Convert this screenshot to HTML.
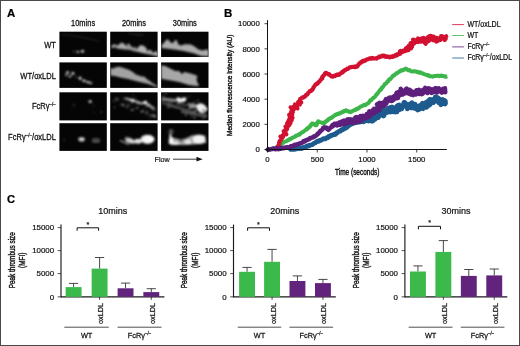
<!DOCTYPE html>
<html><head><meta charset="utf-8"><style>
html,body{margin:0;padding:0;background:#fff;}
body{width:520px;height:346px;overflow:hidden;}
svg{display:block;font-family:"Liberation Sans", sans-serif;will-change:transform;}
</style></head><body>
<svg width="520" height="346" viewBox="0 0 520 346">
<rect x="0" y="0" width="520" height="346" fill="#fff"/>
<text x="6.9" y="16.5" font-size="11.4" text-anchor="start" font-weight="bold" fill="#000" stroke="#000" stroke-width="0.2" >A</text>
<text x="0" y="0" font-size="8.2" text-anchor="middle" font-weight="normal" fill="#111" stroke="#111" stroke-width="0.26" transform="translate(83.10 26.20) scale(0.91 1)">10mins</text>
<text x="0" y="0" font-size="8.2" text-anchor="middle" font-weight="normal" fill="#111" stroke="#111" stroke-width="0.26" transform="translate(133.90 26.20) scale(0.91 1)">20mins</text>
<text x="0" y="0" font-size="8.2" text-anchor="middle" font-weight="normal" fill="#111" stroke="#111" stroke-width="0.26" transform="translate(184.80 26.20) scale(0.91 1)">30mins</text>
<rect x="59.4" y="31.7" width="47.4" height="25.3" fill="#050505"/>
<rect x="110.2" y="31.7" width="47.4" height="25.3" fill="#050505"/>
<rect x="161.1" y="31.7" width="47.4" height="25.3" fill="#050505"/>
<rect x="59.4" y="62.4" width="47.4" height="25.5" fill="#050505"/>
<rect x="110.2" y="62.4" width="47.4" height="25.5" fill="#050505"/>
<rect x="161.1" y="62.4" width="47.4" height="25.5" fill="#050505"/>
<rect x="59.4" y="92.3" width="47.4" height="28.1" fill="#050505"/>
<rect x="110.2" y="92.3" width="47.4" height="28.1" fill="#050505"/>
<rect x="161.1" y="92.3" width="47.4" height="28.1" fill="#050505"/>
<rect x="59.4" y="123.2" width="47.4" height="27.7" fill="#050505"/>
<rect x="110.2" y="123.2" width="47.4" height="27.7" fill="#050505"/>
<rect x="161.1" y="123.2" width="47.4" height="27.7" fill="#050505"/>
<defs><filter id="bl" x="-10%" y="-10%" width="120%" height="120%"><feGaussianBlur stdDeviation="0.95"/></filter>
<clipPath id="imgclip"><rect x="59.4" y="31.7" width="47.4" height="25.3"/><rect x="110.2" y="31.7" width="47.4" height="25.3"/><rect x="161.1" y="31.7" width="47.4" height="25.3"/><rect x="59.4" y="62.4" width="47.4" height="25.5"/><rect x="110.2" y="62.4" width="47.4" height="25.5"/><rect x="161.1" y="62.4" width="47.4" height="25.5"/><rect x="59.4" y="92.3" width="47.4" height="28.1"/><rect x="110.2" y="92.3" width="47.4" height="28.1"/><rect x="161.1" y="92.3" width="47.4" height="28.1"/><rect x="59.4" y="123.2" width="47.4" height="27.7"/><rect x="110.2" y="123.2" width="47.4" height="27.7"/><rect x="161.1" y="123.2" width="47.4" height="27.7"/></clipPath></defs>
<g clip-path="url(#imgclip)"><g filter="url(#bl)"><path d="M62,34.5 Q80,35.5 100,41.5" fill="none" stroke="#3c3c3c" stroke-width="0.6"/><ellipse cx="77.9" cy="51.9" rx="1.4" ry="1.1" fill="#bbb" opacity="1"/><ellipse cx="82.5" cy="51.3" rx="1.7" ry="1.4" fill="#ccc" opacity="1"/><ellipse cx="74" cy="51.5" rx="0.9" ry="0.7" fill="#777" opacity="1"/><line x1="128.5" y1="33.8" x2="143.5" y2="35" stroke="#333" stroke-width="1.0" opacity="1"/><path d="M111.5,47.3 Q112,45 114,44.8 Q116.5,45 117.5,46.5 Z" fill="#999" stroke="#999" stroke-width="1.3" stroke-linejoin="round"/><path d="M117,47.8 Q119,44.5 121.8,43 Q124,44 126.5,47 L127,49 Z" fill="#a8a8a8" stroke="#a8a8a8" stroke-width="1.3" stroke-linejoin="round"/><path d="M126.5,48.5 Q127.5,44.5 128.5,44 Q130,45.5 130.5,47 Q132.5,47 133,48.5 L133,50.2 Z" fill="#999" stroke="#999" stroke-width="1.3" stroke-linejoin="round"/><path d="M132.8,50.4 Q133.5,47.8 135,47.6 Q136.5,48.5 136.8,51 Z" fill="#999" stroke="#999" stroke-width="1.3" stroke-linejoin="round"/><path d="M137.5,51 Q138,47 141,45.8 Q144.5,46 146,49 Q146.5,51.5 146,53.2 Z" fill="#b2b2b2" stroke="#b2b2b2" stroke-width="1.3" stroke-linejoin="round"/><path d="M146.8,53.4 Q147.5,50.8 149.5,50.4 Q152,51 152.8,54.4 Z" fill="#a5a5a5" stroke="#a5a5a5" stroke-width="1.3" stroke-linejoin="round"/><path d="M153,54.6 Q154,52 156,51.8 Q157.8,52.5 158,55.6 Z" fill="#b0b0b0" stroke="#b0b0b0" stroke-width="1.3" stroke-linejoin="round"/><polygon points="161.5,45.0 163.0,44.0 165.8,40.6 167.7,39.0 169.6,41.5 172.5,43.5 174.9,40.6 176.8,40.0 178.3,44.4 181.2,45.4 185.0,44.2 190.8,44.4 194.6,46.6 198.5,49.5 202.3,50.5 207.1,49.5 208.5,50.0 208.5,56.5 200.4,55.7 193.7,53.3 184.0,50.9 174.4,49.4 161.5,48.0" fill="#ababab" opacity="1"/><ellipse cx="67.6" cy="72.5" rx="1.6" ry="1.3" fill="#ccc" opacity="1"/><ellipse cx="72.9" cy="73.5" rx="1.6" ry="1.4" fill="#ccc" opacity="1"/><ellipse cx="70" cy="76.3" rx="1.7" ry="1.1" fill="#bbb" opacity="1"/><ellipse cx="66.2" cy="74.9" rx="1.2" ry="1.2" fill="#999" opacity="1"/><ellipse cx="80.1" cy="78.3" rx="1.5" ry="1.8" fill="#ccc" opacity="1"/><ellipse cx="84" cy="80.7" rx="1.8" ry="1.2" fill="#d0d0d0" opacity="1"/><ellipse cx="87.8" cy="82.1" rx="1.8" ry="1.2" fill="#ccc" opacity="1"/><ellipse cx="90.7" cy="83.1" rx="1.6" ry="1.1" fill="#bbb" opacity="1"/><ellipse cx="76" cy="77" rx="0.8" ry="0.8" fill="#777" opacity="1"/><polygon points="110.4,67.7 112.8,68.7 115.7,67.2 119.6,66.7 124.4,68.2 128.2,69.6 132.1,71.5 135.9,74.4 140.7,76.3 144.6,76.8 147.0,79.2 149.4,80.7 152.3,83.1 157.5,86.0 157.5,87.3 147.5,83.8 137.8,81.4 128.2,79.0 120.5,77.5 114.8,76.1 110.4,75.6" fill="#a2a2a2" opacity="1"/><polygon points="161.2,65.3 165.8,66.3 170.6,68.7 175.4,71.1 179.2,71.1 181.2,73.5 182.6,73.9 184.0,72.0 188.8,73.0 193.7,74.4 197.5,75.9 196.5,79.2 197.5,83.1 199.4,85.5 196.5,86.0 188.8,85.0 179.2,82.1 169.6,80.2 161.2,78.8" fill="#a8a8a8" opacity="1"/><ellipse cx="90.2" cy="101.5" rx="1.7" ry="1.5" fill="#bbb" opacity="1"/><ellipse cx="73.9" cy="105.4" rx="1.5" ry="1.1" fill="#333" opacity="1"/><ellipse cx="101.3" cy="112.1" rx="1.5" ry="1.1" fill="#2a2a2a" opacity="1"/><ellipse cx="93.6" cy="112.1" rx="1.1" ry="0.9" fill="#222" opacity="1"/><ellipse cx="94" cy="106" rx="0.9" ry="0.9" fill="#222" opacity="1"/><ellipse cx="135.9" cy="97.6" rx="0.79" ry="0.65" fill="rgb(57,57,57)" opacity="1"/><ellipse cx="122.9" cy="98.2" rx="0.97" ry="0.71" fill="rgb(60,60,60)" opacity="1"/><ellipse cx="118.2" cy="99.4" rx="0.62" ry="0.75" fill="rgb(78,78,78)" opacity="1"/><ellipse cx="154.7" cy="115.3" rx="0.89" ry="0.73" fill="rgb(87,87,87)" opacity="1"/><ellipse cx="118.9" cy="105.5" rx="0.48" ry="0.5" fill="rgb(33,33,33)" opacity="1"/><ellipse cx="115.1" cy="99.4" rx="0.86" ry="0.62" fill="rgb(57,57,57)" opacity="1"/><ellipse cx="136.8" cy="103.7" rx="0.63" ry="0.63" fill="rgb(69,69,69)" opacity="1"/><ellipse cx="157.2" cy="110.6" rx="1.06" ry="0.82" fill="rgb(89,89,89)" opacity="1"/><ellipse cx="127.1" cy="103.8" rx="0.85" ry="0.78" fill="rgb(34,34,34)" opacity="1"/><ellipse cx="148.4" cy="114.7" rx="1.22" ry="0.88" fill="rgb(53,53,53)" opacity="1"/><ellipse cx="113.3" cy="100.6" rx="0.96" ry="0.89" fill="rgb(58,58,58)" opacity="1"/><ellipse cx="114.1" cy="107.6" rx="0.78" ry="0.79" fill="rgb(67,67,67)" opacity="1"/><ellipse cx="119.4" cy="95.1" rx="0.45" ry="0.46" fill="rgb(75,75,75)" opacity="1"/><ellipse cx="115.1" cy="108.5" rx="0.74" ry="0.8" fill="rgb(33,33,33)" opacity="1"/><ellipse cx="138.3" cy="104.9" rx="0.58" ry="0.47" fill="rgb(73,73,73)" opacity="1"/><ellipse cx="118.6" cy="101.1" rx="0.5" ry="0.51" fill="rgb(55,55,55)" opacity="1"/><ellipse cx="154.4" cy="114.6" rx="0.54" ry="0.51" fill="rgb(83,83,83)" opacity="1"/><ellipse cx="151.0" cy="108.7" rx="0.67" ry="0.45" fill="rgb(68,68,68)" opacity="1"/><ellipse cx="123.1" cy="101.5" rx="0.47" ry="0.55" fill="rgb(49,49,49)" opacity="1"/><ellipse cx="115.4" cy="106.3" rx="0.64" ry="0.52" fill="rgb(64,64,64)" opacity="1"/><ellipse cx="133.0" cy="95.2" rx="0.97" ry="0.69" fill="rgb(59,59,59)" opacity="1"/><ellipse cx="120.7" cy="104.1" rx="1.17" ry="0.85" fill="rgb(39,39,39)" opacity="1"/><ellipse cx="123.6" cy="104.6" rx="0.73" ry="0.5" fill="rgb(86,86,86)" opacity="1"/><ellipse cx="148.9" cy="117.9" rx="0.53" ry="0.61" fill="rgb(66,66,66)" opacity="1"/><ellipse cx="114.6" cy="101.8" rx="0.73" ry="0.53" fill="rgb(72,72,72)" opacity="1"/><ellipse cx="139.3" cy="107.1" rx="0.64" ry="0.49" fill="rgb(47,47,47)" opacity="1"/><ellipse cx="116.6" cy="100.2" rx="0.7" ry="0.71" fill="rgb(81,81,81)" opacity="1"/><ellipse cx="150.8" cy="117.5" rx="0.4" ry="0.41" fill="rgb(42,42,42)" opacity="1"/><ellipse cx="131.9" cy="107.6" rx="0.61" ry="0.69" fill="rgb(52,52,52)" opacity="1"/><ellipse cx="128.9" cy="105.0" rx="1.12" ry="0.89" fill="rgb(83,83,83)" opacity="1"/><ellipse cx="143.7" cy="107.4" rx="0.59" ry="0.41" fill="rgb(32,32,32)" opacity="1"/><ellipse cx="143.8" cy="108.3" rx="0.51" ry="0.41" fill="rgb(87,87,87)" opacity="1"/><ellipse cx="134.4" cy="105.6" rx="0.52" ry="0.44" fill="rgb(89,89,89)" opacity="1"/><ellipse cx="146.2" cy="106.7" rx="0.99" ry="0.77" fill="rgb(84,84,84)" opacity="1"/><ellipse cx="146.2" cy="113.8" rx="1.2" ry="0.85" fill="rgb(71,71,71)" opacity="1"/><ellipse cx="132.2" cy="103.2" rx="1.0" ry="0.83" fill="rgb(77,77,77)" opacity="1"/><ellipse cx="141.6" cy="104.5" rx="0.55" ry="0.44" fill="rgb(66,66,66)" opacity="1"/><ellipse cx="154.5" cy="117.2" rx="0.82" ry="0.76" fill="rgb(82,82,82)" opacity="1"/><ellipse cx="146.2" cy="106.4" rx="0.59" ry="0.44" fill="rgb(80,80,80)" opacity="1"/><ellipse cx="116.0" cy="97.0" rx="0.62" ry="0.64" fill="rgb(66,66,66)" opacity="1"/><ellipse cx="145.2" cy="104.1" rx="0.43" ry="0.53" fill="rgb(85,85,85)" opacity="1"/><ellipse cx="126.6" cy="103.3" rx="0.46" ry="0.5" fill="rgb(70,70,70)" opacity="1"/><ellipse cx="152.8" cy="110.4" rx="0.71" ry="0.56" fill="rgb(83,83,83)" opacity="1"/><ellipse cx="123.6" cy="98.2" rx="1.16" ry="0.8" fill="rgb(55,55,55)" opacity="1"/><ellipse cx="152.3" cy="108.4" rx="0.54" ry="0.47" fill="rgb(48,48,48)" opacity="1"/><ellipse cx="117" cy="99" rx="2" ry="0.8" fill="rgb(100,100,100)" opacity="1"/><ellipse cx="126.6" cy="98.8" rx="1.9" ry="1.3" fill="rgb(150,150,150)" opacity="1"/><ellipse cx="129.5" cy="99.6" rx="1.7" ry="1.3" fill="rgb(180,180,180)" opacity="1"/><ellipse cx="132.6" cy="100.3" rx="2.1" ry="1.6" fill="rgb(230,230,230)" opacity="1"/><ellipse cx="135.5" cy="101.3" rx="1.9" ry="1.2" fill="rgb(170,170,170)" opacity="1"/><ellipse cx="138.5" cy="102.6" rx="2.1" ry="1.3" fill="rgb(180,180,180)" opacity="1"/><ellipse cx="141.5" cy="103.2" rx="1.9" ry="1.3" fill="rgb(170,170,170)" opacity="1"/><ellipse cx="145.3" cy="102.6" rx="2.2" ry="1.9" fill="rgb(240,240,240)" opacity="1"/><ellipse cx="148.6" cy="104.9" rx="2.1" ry="1.5" fill="rgb(200,200,200)" opacity="1"/><ellipse cx="151.5" cy="107" rx="1.9" ry="1.3" fill="rgb(170,170,170)" opacity="1"/><ellipse cx="153.6" cy="108.5" rx="1.6" ry="1.3" fill="rgb(150,150,150)" opacity="1"/><ellipse cx="123" cy="105" rx="1.7" ry="1.3" fill="rgb(110,110,110)" opacity="1"/><ellipse cx="127" cy="107" rx="1.6" ry="1.1" fill="rgb(90,90,90)" opacity="1"/><ellipse cx="132.2" cy="110" rx="1.9" ry="1.1" fill="rgb(100,100,100)" opacity="1"/><ellipse cx="137" cy="108" rx="1.6" ry="1.1" fill="rgb(100,100,100)" opacity="1"/><ellipse cx="142.3" cy="111.4" rx="1.9" ry="1.2" fill="rgb(110,110,110)" opacity="1"/><ellipse cx="147" cy="112" rx="1.6" ry="1.1" fill="rgb(90,90,90)" opacity="1"/><ellipse cx="152.5" cy="115.5" rx="2.3" ry="1.1" fill="rgb(130,130,130)" opacity="1"/><ellipse cx="155" cy="116.5" rx="1.5" ry="1.0" fill="rgb(110,110,110)" opacity="1"/><ellipse cx="190.1" cy="107.5" rx="1.36" ry="0.94" fill="rgb(144,144,144)" opacity="1"/><ellipse cx="165.6" cy="92.2" rx="1.34" ry="1.07" fill="rgb(101,101,101)" opacity="1"/><ellipse cx="201.4" cy="115.3" rx="0.99" ry="0.83" fill="rgb(82,82,82)" opacity="1"/><ellipse cx="161.6" cy="102.8" rx="0.96" ry="0.67" fill="rgb(79,79,79)" opacity="1"/><ellipse cx="195.2" cy="114.0" rx="0.77" ry="0.87" fill="rgb(72,72,72)" opacity="1"/><ellipse cx="160.1" cy="106.0" rx="0.59" ry="0.63" fill="rgb(138,138,138)" opacity="1"/><ellipse cx="205.5" cy="115.2" rx="1.05" ry="0.82" fill="rgb(146,146,146)" opacity="1"/><ellipse cx="172.0" cy="99.7" rx="1.35" ry="0.91" fill="rgb(144,144,144)" opacity="1"/><ellipse cx="202.6" cy="110.3" rx="0.5" ry="0.59" fill="rgb(74,74,74)" opacity="1"/><ellipse cx="174.4" cy="107.5" rx="0.64" ry="0.5" fill="rgb(114,114,114)" opacity="1"/><ellipse cx="178.1" cy="101.1" rx="0.78" ry="0.69" fill="rgb(103,103,103)" opacity="1"/><ellipse cx="191.5" cy="116.4" rx="0.89" ry="1.09" fill="rgb(65,65,65)" opacity="1"/><ellipse cx="195.6" cy="110.1" rx="0.87" ry="0.72" fill="rgb(130,130,130)" opacity="1"/><ellipse cx="162.6" cy="98.9" rx="0.89" ry="0.61" fill="rgb(64,64,64)" opacity="1"/><ellipse cx="170.7" cy="102.5" rx="0.74" ry="0.71" fill="rgb(144,144,144)" opacity="1"/><ellipse cx="188.6" cy="96.7" rx="0.75" ry="0.56" fill="rgb(129,129,129)" opacity="1"/><ellipse cx="197.7" cy="111.0" rx="0.58" ry="0.55" fill="rgb(145,145,145)" opacity="1"/><ellipse cx="189.8" cy="106.8" rx="1.02" ry="0.7" fill="rgb(142,142,142)" opacity="1"/><ellipse cx="187.0" cy="105.4" rx="0.49" ry="0.55" fill="rgb(75,75,75)" opacity="1"/><ellipse cx="192.0" cy="112.3" rx="0.5" ry="0.6" fill="rgb(149,149,149)" opacity="1"/><ellipse cx="207.7" cy="108.5" rx="1.18" ry="0.86" fill="rgb(81,81,81)" opacity="1"/><ellipse cx="182.8" cy="104.7" rx="0.77" ry="0.53" fill="rgb(97,97,97)" opacity="1"/><ellipse cx="165.9" cy="91.7" rx="1.38" ry="0.94" fill="rgb(71,71,71)" opacity="1"/><ellipse cx="190.3" cy="108.3" rx="0.62" ry="0.56" fill="rgb(130,130,130)" opacity="1"/><ellipse cx="168.1" cy="103.5" rx="1.54" ry="1.1" fill="rgb(100,100,100)" opacity="1"/><ellipse cx="206.8" cy="109.7" rx="1.04" ry="0.79" fill="rgb(100,100,100)" opacity="1"/><ellipse cx="183.9" cy="104.8" rx="1.08" ry="0.73" fill="rgb(73,73,73)" opacity="1"/><ellipse cx="203.9" cy="116.7" rx="0.83" ry="0.8" fill="rgb(116,116,116)" opacity="1"/><ellipse cx="166.3" cy="99.7" rx="0.97" ry="0.72" fill="rgb(138,138,138)" opacity="1"/><ellipse cx="194.6" cy="117.4" rx="1.2" ry="0.9" fill="rgb(122,122,122)" opacity="1"/><ellipse cx="178.7" cy="103.4" rx="1.23" ry="0.96" fill="rgb(103,103,103)" opacity="1"/><ellipse cx="176.2" cy="100.1" rx="1.07" ry="0.89" fill="rgb(145,145,145)" opacity="1"/><ellipse cx="163.5" cy="96.5" rx="1.07" ry="0.78" fill="rgb(120,120,120)" opacity="1"/><ellipse cx="191.4" cy="107.3" rx="0.89" ry="0.71" fill="rgb(131,131,131)" opacity="1"/><ellipse cx="194.6" cy="111.3" rx="1.31" ry="1.02" fill="rgb(135,135,135)" opacity="1"/><ellipse cx="207.0" cy="109.1" rx="0.95" ry="0.81" fill="rgb(146,146,146)" opacity="1"/><ellipse cx="167.9" cy="107.0" rx="1.19" ry="0.91" fill="rgb(102,102,102)" opacity="1"/><ellipse cx="197.5" cy="100.7" rx="1.17" ry="0.97" fill="rgb(75,75,75)" opacity="1"/><ellipse cx="193.5" cy="103.2" rx="1.15" ry="0.88" fill="rgb(129,129,129)" opacity="1"/><ellipse cx="162.4" cy="102.7" rx="0.96" ry="0.76" fill="rgb(74,74,74)" opacity="1"/><ellipse cx="172.6" cy="100.1" rx="0.75" ry="0.78" fill="rgb(63,63,63)" opacity="1"/><ellipse cx="166.1" cy="94.6" rx="0.64" ry="0.69" fill="rgb(72,72,72)" opacity="1"/><ellipse cx="169.3" cy="106.8" rx="1.05" ry="0.87" fill="rgb(94,94,94)" opacity="1"/><ellipse cx="172.4" cy="103.8" rx="0.54" ry="0.5" fill="rgb(141,141,141)" opacity="1"/><ellipse cx="175.1" cy="101.5" rx="0.6" ry="0.72" fill="rgb(134,134,134)" opacity="1"/><ellipse cx="189.3" cy="108.9" rx="0.86" ry="0.83" fill="rgb(68,68,68)" opacity="1"/><ellipse cx="185.8" cy="115.0" rx="1.23" ry="0.99" fill="rgb(97,97,97)" opacity="1"/><ellipse cx="179.2" cy="102.4" rx="1.02" ry="0.86" fill="rgb(72,72,72)" opacity="1"/><ellipse cx="203.3" cy="118.2" rx="0.83" ry="1.04" fill="rgb(91,91,91)" opacity="1"/><ellipse cx="167.2" cy="99.8" rx="0.78" ry="0.87" fill="rgb(110,110,110)" opacity="1"/><line x1="161.5" y1="99" x2="176" y2="100.5" stroke="#888" stroke-width="3.2" opacity="1"/><line x1="163" y1="103" x2="189" y2="110.5" stroke="#666" stroke-width="1.8" opacity="1"/><line x1="170" y1="106" x2="196" y2="112.5" stroke="#555" stroke-width="1.4" opacity="1"/><line x1="181" y1="111.5" x2="207" y2="116.5" stroke="#666" stroke-width="1.8" opacity="1"/><line x1="176" y1="104" x2="196" y2="106" stroke="#555" stroke-width="1.5" opacity="1"/><line x1="188" y1="104" x2="197" y2="106" stroke="#888" stroke-width="2.5" opacity="1"/><path d="M176.5,98 Q178,96.5 180,98 Q182,99 183,97.5 Q186,96.5 186.5,99 Q186,102 182,102.3 L178,102 Q176,100.5 176.5,98Z" fill="#f2f2f2"/><path d="M196,106 Q198,102.5 202,103.5 Q206,105 206.8,108.5 Q206.5,112.5 203,113.3 Q200,113.5 198.5,111 Q196.5,109 196,106Z" fill="#eeeeee"/><ellipse cx="203.5" cy="110.5" rx="1.0" ry="1.2" fill="#333" opacity="1"/><ellipse cx="193" cy="106.5" rx="3" ry="1.8" fill="#999" opacity="1"/><ellipse cx="81.6" cy="139.3" rx="3.4" ry="2.4" fill="#a8a8a8" opacity="1"/><ellipse cx="81.6" cy="139.3" rx="1.8" ry="1.3" fill="#d8d8d8" opacity="1"/><ellipse cx="96" cy="140.5" rx="4.4" ry="2.6" fill="#4a4a4a" opacity="1"/><ellipse cx="64.3" cy="139.8" rx="1" ry="1.4" fill="#2a2a2a" opacity="1"/><ellipse cx="147.5" cy="139.3" rx="7" ry="4.6" fill="#e8e8e8" opacity="1"/><ellipse cx="148.6" cy="139.3" rx="5" ry="3.4" fill="#fafafa" opacity="1"/><ellipse cx="138" cy="141.2" rx="4" ry="2.5" fill="#e0e0e0" opacity="1"/><ellipse cx="130" cy="140.7" rx="5.4" ry="2.6" fill="#d0d0d0" transform="rotate(22 130 140.7)"/><line x1="120" y1="140.5" x2="129" y2="144.5" stroke="#bbb" stroke-width="1.1" opacity="1"/><ellipse cx="127" cy="138" rx="2.5" ry="1.2" fill="#777" opacity="1"/><polygon points="169.6,133.5 171.5,135.5 172.5,137.4 179.2,139.3 185.0,138.8 191.7,135.5 198.5,134.5 205.2,135.4 206.2,143.1 193.7,144.6 184.0,145.0 172.5,145.0 168.7,143.6" fill="#a8a8a8" opacity="1"/><ellipse cx="199" cy="139.5" rx="6.2" ry="4.6" fill="#f2f2f2" opacity="1"/><ellipse cx="171" cy="141" rx="2.2" ry="3.5" fill="#fafafa" opacity="1"/><ellipse cx="175" cy="143.3" rx="4" ry="1.6" fill="#eee" opacity="1"/><ellipse cx="188" cy="142" rx="3.2" ry="2.2" fill="#e6e6e6" opacity="1"/><ellipse cx="181" cy="140.5" rx="2.2" ry="1.2" fill="#555" opacity="1"/><ellipse cx="170.5" cy="136" rx="1" ry="2" fill="#ddd" opacity="1"/><ellipse cx="171" cy="131.5" rx="2.5" ry="2.5" fill="#555" opacity="1"/></g></g>
<text x="0" y="0" font-size="8.2" text-anchor="end" font-weight="normal" fill="#111" stroke="#111" stroke-width="0.26" transform="translate(55.90 48.00) scale(0.92 1)">WT</text>
<text x="0" y="0" font-size="8.2" text-anchor="end" font-weight="normal" fill="#111" stroke="#111" stroke-width="0.26" transform="translate(55.90 78.50) scale(0.92 1)">WT/oxLDL</text>
<text x="0" y="0" font-size="8.2" text-anchor="end" font-weight="normal" fill="#111" stroke="#111" stroke-width="0.26" transform="translate(55.90 109.20) scale(0.92 1)">FcRγ<tspan font-size="4.8" dy="-3">−/−</tspan></text>
<text x="0" y="0" font-size="8.2" text-anchor="end" font-weight="normal" fill="#111" stroke="#111" stroke-width="0.26" transform="translate(55.90 140.20) scale(0.92 1)">FcRγ<tspan font-size="4.8" dy="-3">−/−</tspan><tspan dy="3">/oxLDL</tspan></text>
<text x="0" y="0" font-size="7.9" text-anchor="start" font-weight="normal" fill="#111" stroke="#111" stroke-width="0.2" transform="translate(154.6 161.5) scale(0.91 1)">Flow</text>
<line x1="173" y1="159.2" x2="198" y2="159.2" stroke="#222" stroke-width="0.9"/>
<polygon points="196.5,156.8 202.7,159.2 196.5,161.6" fill="#111"/>
<text x="224" y="16.7" font-size="11.5" text-anchor="start" font-weight="bold" fill="#000" stroke="#000" stroke-width="0.2" >B</text>
<polyline points="289.98,148.92 290.41,149.37 290.81,149.31 291.18,148.86 291.61,149.28 291.99,148.96 292.42,149.45 292.81,149.23 293.04,149.41 293.38,148.74 293.85,149.42 294.18,148.78 294.64,149.26 294.99,148.83 295.42,149.10 295.75,148.33 296.13,148.19 296.57,148.48 297.00,148.84 297.36,148.43 297.77,148.46 298.14,148.16 298.57,148.45 298.96,148.32 299.40,148.66 299.78,148.49 300.16,148.22 300.53,147.90 300.92,147.85 301.39,148.52 301.73,148.19 302.03,147.80 302.56,148.19 302.81,147.61 303.25,147.71 303.74,147.95 303.95,147.23 304.34,147.14 304.72,147.00 305.13,146.99 305.56,147.04 305.91,146.82 306.26,146.59 306.56,146.18 307.04,146.40 307.41,146.24 307.86,146.37 308.15,145.90 308.43,146.06 308.68,145.67 309.20,145.82 309.34,145.21 309.85,145.33 310.24,145.20 310.65,145.13 311.07,145.08 311.44,144.93 311.71,144.57 312.24,144.73 312.62,144.60 312.81,144.08 313.18,143.93 313.57,143.81 313.78,143.35 314.26,143.41 314.59,143.17 314.97,143.04 315.30,142.80 315.69,142.70 315.89,142.20 316.08,142.06 316.38,141.76 316.85,141.82 317.07,141.35 317.64,141.60 318.06,141.56 318.39,141.32 318.61,140.86 319.22,141.18 319.35,140.55 319.73,140.41 320.04,140.50 320.44,140.44 320.75,140.12 321.25,140.29 321.64,140.19 321.82,139.55 322.15,139.30 322.55,139.23 323.00,139.28 323.36,139.10 323.59,138.60 324.06,138.70 324.63,139.06 325.05,139.03 325.33,138.65 325.76,138.64 326.15,138.54 326.32,137.90 326.65,137.63 327.19,137.91 327.49,137.58 327.94,137.64 328.15,137.07 328.52,136.93 328.77,137.13 328.81,136.33 329.28,136.36 329.54,135.99 330.04,136.10 330.47,136.07 330.93,136.09 331.19,135.73 331.32,135.09 331.81,135.18 332.24,135.14 332.66,135.09 333.07,135.01 333.54,135.05 333.90,134.87 333.99,134.17 334.36,134.00 335.04,134.48 335.11,133.72 335.77,134.15 335.78,133.28 336.29,133.39 336.44,132.80 336.77,132.57 337.20,132.53 337.73,132.69 337.75,132.59 337.93,132.09 338.20,131.74 338.63,131.70 338.90,131.36 339.27,131.21 339.74,131.23 340.10,131.05 340.64,131.20 340.66,130.41 341.19,130.55 341.54,130.35 341.69,129.81 342.11,129.73 342.34,129.33 342.99,129.67 343.12,129.08 343.36,128.69 343.89,128.82 344.28,128.69 344.78,128.78 344.93,128.54 344.99,127.95 345.68,128.21 345.56,127.38 346.25,127.64 346.25,126.97 346.97,127.27 346.98,126.60 347.61,126.78 347.94,126.56 348.25,126.30 348.24,125.61 348.70,125.57 348.86,125.11 349.47,125.26 349.91,125.18 349.98,124.60 350.30,124.50 350.68,124.38 350.91,123.82 351.35,123.87 351.72,123.72 352.21,123.91 352.50,123.51 352.86,123.34 353.29,123.35 353.57,122.94 353.91,122.69 354.33,122.70 354.65,122.41 355.22,122.82 355.55,122.55 355.98,122.57 356.00,122.52 356.33,122.04 356.83,122.61 357.22,122.53 357.50,121.76 357.95,122.03 358.39,122.25 358.73,121.86 359.19,122.15 359.55,121.92 359.94,121.79 360.36,121.91 360.73,121.71 361.10,121.46 361.41,120.88 361.90,121.41 362.05,121.71 362.43,121.57 362.86,121.69 363.18,121.30 363.73,121.91 363.91,120.86 364.42,121.34 364.72,120.86 364.99,120.22 365.32,119.88 365.76,119.99 366.22,120.22 366.70,120.53 366.88,119.51 367.28,119.47 368.02,120.94 368.48,121.15 368.49,119.61 368.86,119.44 369.31,119.58 369.35,118.23 370.13,119.52 370.71,120.13 371.41,121.14 371.63,120.45 371.96,120.13 372.23,119.61 373.03,121.01 373.07,119.65 373.40,119.36 374.02,120.09 374.11,118.91 373.58,117.73 374.67,118.89 375.31,119.22 374.58,117.07 374.29,115.70 374.62,115.46 376.49,118.04 375.38,115.19 376.83,117.01 376.12,114.88 377.34,116.26 378.53,117.61 377.21,115.34 377.90,115.41 379.36,116.15 379.64,115.86 379.90,115.55 379.58,114.75 378.61,113.38 380.81,114.76 379.86,113.61 381.05,114.78 380.94,113.84 380.89,112.99 383.18,115.96 381.87,113.06 384.02,115.80 383.11,113.56 383.59,113.57 383.07,111.95 382.93,110.96 384.54,112.82 384.00,111.17 384.65,111.47 383.89,109.47 385.01,111.04 385.75,112.02 386.42,112.78 386.73,112.43 386.71,111.08 387.55,112.36 387.74,111.66 387.87,110.76 388.47,111.33 388.26,109.40 388.21,107.94 388.68,108.09 390.40,112.07 390.54,111.21 390.42,110.65 390.27,107.28 391.20,110.44 391.58,110.27 391.78,109.06 392.00,107.92 392.24,106.96 393.47,111.88 393.88,111.93 394.18,111.26 394.24,109.21 394.94,110.95 395.52,112.02 395.52,109.90 395.08,107.57 397.11,111.88 396.62,109.41 397.43,110.46 397.51,109.53 396.80,106.44 397.89,108.25 397.30,105.49 398.06,106.40 399.70,109.68 399.51,108.00 399.64,107.21 399.15,104.74 400.67,107.68 400.48,107.28 400.90,107.48 401.33,107.76 401.85,108.98 401.95,105.92 402.39,106.32 402.70,105.35 403.10,105.30 403.53,105.66 403.67,102.96 404.01,102.34 404.46,102.83 404.83,102.54 405.53,105.45 406.01,104.13 406.24,107.14 406.81,104.13 407.18,104.58 407.33,108.99 407.97,104.82 408.29,106.20 408.60,107.84 409.06,106.81 409.57,104.87 410.03,103.95 410.28,106.41 410.80,104.46 410.64,107.86 411.17,104.36 411.44,107.91 412.04,102.65 412.32,105.90 412.78,104.19 413.13,105.56 413.52,105.69 413.83,108.10 414.36,104.81 414.63,108.13 415.19,104.11 415.45,107.63 415.81,108.83 415.99,106.66 416.16,109.13 416.81,106.43 417.21,106.45 417.33,109.57 417.69,110.03 418.19,108.92 418.87,105.82 418.92,109.78 419.62,106.40 419.79,108.98 420.49,105.71 420.96,104.99 421.34,105.21 421.85,107.58 423.05,108.81 422.10,106.44 421.27,104.29 423.30,106.89 424.27,107.72 424.29,106.99 422.41,103.08 423.68,104.42 425.39,106.49 425.53,105.94 426.77,107.23 426.93,106.72 427.11,106.24 427.25,105.70 426.59,104.17 426.04,102.32 428.31,105.65 427.74,103.76 429.07,105.38 427.36,101.40 429.60,104.68 429.37,103.42 430.33,104.35 430.14,103.15 429.72,101.55 430.25,101.68 429.47,99.42 430.22,99.97 431.50,101.48 430.83,99.40 431.82,100.12 432.54,101.66 432.88,101.31 433.56,102.67 433.37,99.70 433.82,99.88 434.00,98.74 434.72,100.33 434.97,99.54 435.72,101.23 435.23,96.74 435.61,96.60 436.18,97.44 437.18,99.17 437.50,99.59 438.30,97.75 438.49,98.79 438.39,101.17 439.10,99.75 438.81,103.00 440.02,99.27 439.57,103.29 440.65,100.16 440.34,103.51 440.64,104.03 440.87,104.87 441.37,104.44 442.86,99.38 442.23,102.78 442.36,103.96 442.96,103.16 443.77,101.48 443.81,103.05 444.84,100.43 444.60,103.19 445.52,101.01 445.19,104.15 446.00,102.00" fill="none" stroke="#1d5a8e" stroke-width="4.6" stroke-linejoin="round"/>
<polyline points="267.47,148.72 267.88,148.90 268.30,149.23 268.72,149.46 269.10,149.20 269.51,149.36 269.91,149.32 270.31,149.20 270.69,148.90 271.08,148.75 271.47,148.64 271.89,148.91 272.27,148.63 272.70,149.04 273.08,148.72 273.49,148.92 273.89,148.89 274.07,148.92 274.23,148.41 274.62,148.27 275.13,148.36 275.29,147.84 275.81,147.94 276.27,147.93 276.37,147.31 276.91,147.44 277.09,146.94 277.53,146.91 277.58,146.48 277.98,146.32 278.22,145.99 278.24,145.44 278.69,145.33 279.00,145.08 279.22,144.73 279.56,144.63 280.04,144.67 280.39,144.48 280.80,144.39 280.93,143.80 281.50,144.00 281.80,143.73 282.24,143.69 282.21,142.81 282.59,142.68 283.23,142.99 283.35,142.39 283.82,142.42 284.13,142.15 284.41,141.82 284.77,141.65 285.17,141.55 285.70,141.67 285.92,141.25 286.41,141.31 286.62,140.86 287.14,140.98 287.44,140.70 287.82,140.56 288.19,140.41 288.22,139.62 288.88,139.98 289.09,139.54 289.11,139.23 289.56,139.22 289.81,138.83 290.23,138.78 290.81,139.04 291.13,138.79 291.53,138.70 291.63,138.00 291.95,137.75 292.38,137.72 292.77,137.60 293.20,137.57 293.43,137.12 293.94,137.26 294.26,136.99 294.52,136.62 295.05,136.79 295.15,136.10 295.67,136.23 295.86,135.72 296.14,135.40 296.64,135.49 297.01,135.35 297.42,135.27 297.72,134.97 298.29,135.23 298.62,134.99 298.68,134.43 298.95,134.12 299.71,134.51 299.82,133.96 300.03,133.56 300.40,133.39 300.95,133.50 301.04,132.92 301.43,132.78 301.87,132.71 302.04,132.25 302.49,132.20 302.96,132.17 303.23,131.86 303.50,131.55 303.84,131.34 304.04,130.93 304.52,130.91 304.85,130.69 305.15,130.41 305.43,130.12 305.87,130.05 305.96,129.48 306.49,129.55 306.90,129.44 306.78,128.56 307.17,128.41 307.79,128.61 307.73,127.82 308.40,128.09 308.47,127.87 308.50,127.37 309.15,127.41 309.10,126.82 309.85,126.96 309.79,126.37 310.40,126.37 310.63,126.05 310.45,125.35 310.86,125.18 310.98,124.75 311.57,124.74 311.43,124.08 311.66,123.75 311.93,123.46 312.32,123.67 312.89,123.41 313.23,123.62 313.57,123.85 313.90,124.08 314.31,124.15 314.48,124.70 315.02,124.53 315.28,124.89 315.47,125.42 316.00,125.24 316.12,125.36 316.74,125.20 316.51,124.66 317.03,124.46 317.11,124.05 316.93,123.53 317.06,123.15 317.07,122.72 317.80,122.61 317.69,122.12 317.81,121.74 318.04,121.26 318.41,121.41 318.65,122.01 319.19,121.60 319.48,122.04 319.85,122.21 320.25,122.25 320.64,122.34 321.05,122.36 321.49,122.30 321.74,122.86 322.11,123.02 322.56,122.89 323.01,122.79 323.24,123.42 323.77,123.03 323.75,123.04 324.29,123.07 324.70,122.95 324.87,122.52 324.93,121.95 325.61,122.17 325.50,121.39 325.89,121.23 326.52,121.38 326.76,121.04 327.09,120.81 327.11,120.19 327.81,120.43 327.91,119.91 328.02,119.41 328.68,119.60 329.04,119.40 328.91,118.60 329.40,118.58 329.75,118.74 329.88,118.19 330.24,118.01 330.80,118.17 331.04,117.78 331.61,117.96 331.90,117.66 332.24,117.45 332.52,117.14 332.65,116.59 333.19,116.70 333.48,116.42 333.76,116.11 334.09,115.88 334.28,115.42 334.54,115.08 335.15,115.31 335.29,114.74 335.59,114.41 336.21,114.88 336.45,114.40 336.87,114.37 337.15,113.99 337.47,113.71 337.89,113.69 338.41,113.91 338.62,113.37 339.18,113.68 339.38,113.12 339.95,113.45 340.15,112.87 340.63,112.99 340.93,112.67 341.07,112.64 341.55,112.72 341.84,112.40 342.23,112.28 342.46,111.83 342.83,111.68 343.18,111.50 343.74,111.73 343.83,111.01 344.32,111.08 344.83,111.23 345.10,110.87 345.35,110.47 345.95,110.78 345.90,110.14 346.28,110.27 346.70,110.30 346.96,110.72 347.22,111.16 347.75,110.90 348.11,111.07 348.34,111.60 348.90,111.26 349.29,111.37 349.48,111.97 350.02,111.70 350.27,112.15 350.27,111.93 350.77,112.05 351.21,112.04 351.43,111.58 351.73,111.28 352.20,111.34 352.59,111.21 352.72,110.59 353.14,110.53 353.55,110.46 353.97,110.39 354.26,110.07 354.76,110.18 354.98,109.74 355.56,110.01 355.73,109.45 356.05,109.18 356.05,109.06 356.41,108.88 356.79,108.73 357.40,108.96 357.57,108.47 357.94,108.31 358.50,108.47 358.87,108.30 359.14,107.98 359.27,107.42 359.64,107.25 360.04,107.14 360.27,106.75 360.64,106.59 360.92,106.29 361.29,106.11 361.84,106.26 362.09,106.02 362.42,105.78 362.81,105.66 363.22,105.62 363.61,105.51 363.79,104.89 364.39,105.32 364.65,104.89 364.99,104.66 365.54,104.96 365.86,104.68 366.12,104.26 366.41,103.89 366.90,104.04 367.27,103.89 367.61,103.67 367.69,103.40 368.21,103.33 368.27,102.85 368.81,102.80 368.94,102.38 369.04,101.93 369.57,101.87 369.58,101.34 369.62,100.83 370.00,100.63 370.17,100.25 370.71,100.20 371.24,100.27 371.60,100.07 371.78,99.67 371.82,99.12 372.17,98.91 372.46,98.63 372.85,98.47 373.29,98.36 373.27,97.74 373.81,97.73 374.07,97.43 374.48,97.29 374.86,97.11 374.93,96.59 375.30,96.47 375.34,95.98 375.68,95.74 376.01,95.50 375.91,94.89 376.43,94.80 376.68,94.49 376.77,94.04 377.08,93.78 377.68,93.77 377.67,93.24 377.83,92.85 378.12,92.57 378.47,92.34 378.61,91.94 378.81,91.58 378.80,91.55 378.97,91.17 379.41,91.01 379.76,90.77 379.76,90.26 380.36,90.22 380.46,89.80 381.11,89.79 381.32,89.44 381.05,88.73 381.61,88.66 381.62,88.17 381.72,87.73 382.41,87.77 382.65,87.45 382.80,87.05 382.92,86.64 383.21,86.68 383.22,86.16 383.55,85.91 383.78,85.59 384.14,85.37 384.38,85.05 384.31,84.46 384.52,84.11 385.02,84.02 385.38,83.80 385.57,83.44 386.19,83.44 386.47,83.15 386.64,82.77 386.82,82.40 387.14,82.25 387.17,81.71 387.79,81.78 387.72,81.12 388.38,81.24 388.46,80.74 388.49,80.19 388.67,79.80 389.15,79.72 389.38,79.38 389.84,79.29 389.87,78.74 390.63,78.96 390.72,78.47 391.02,78.21 391.45,78.08 391.64,77.70 391.82,77.30 392.00,76.91 392.37,76.72 392.45,76.18 392.86,76.05 393.42,76.12 393.39,75.43 393.67,75.14 394.34,75.36 394.44,74.83 394.84,74.69 395.19,74.49 395.58,74.34 395.71,73.85 396.25,73.89 396.23,73.22 396.97,73.52 397.07,73.00 397.56,72.97 397.73,72.54 398.25,72.56 398.40,72.10 398.83,72.00 399.02,71.59 399.25,71.89 399.61,71.71 399.81,71.11 400.30,71.28 400.69,71.18 400.83,70.44 401.18,70.22 401.76,70.61 402.16,70.53 402.32,69.85 402.90,70.23 403.33,70.24 403.52,69.63 404.03,69.83 404.25,69.28 404.73,69.42 405.00,69.02 405.35,68.82 405.66,68.53 405.90,69.06 406.25,69.28 406.70,69.19 407.12,69.21 407.47,69.42 407.80,69.68 408.01,70.31 408.47,70.22 408.82,70.41 409.25,70.39 409.79,70.05 410.10,70.38 410.33,70.96 410.71,71.08 411.04,71.37 411.44,71.41 411.76,71.43 412.15,71.52 412.53,71.70 412.97,71.39 413.41,71.15 413.78,71.42 414.20,71.24 414.58,71.45 414.95,71.69 415.38,71.44 415.79,71.43 416.20,71.34 416.57,71.61 416.95,71.82 417.33,71.99 417.69,72.36 418.16,71.78 418.19,71.93 418.61,71.94 418.77,72.64 419.26,72.50 419.65,72.58 420.01,72.78 420.61,72.32 420.74,73.10 421.28,72.81 421.58,73.14 422.03,73.09 422.31,73.47 422.80,73.30 423.17,73.46 423.53,73.64 423.75,74.18 424.18,74.17 424.57,74.09 424.91,74.35 425.25,74.58 425.70,74.51 426.04,74.74 426.37,75.01 426.80,74.98 427.14,75.24 427.63,75.03 427.86,75.59 428.22,75.78 428.70,75.62 429.20,75.39 429.56,75.59 429.76,76.23 430.10,76.46 430.51,76.50 430.90,76.47 431.30,76.47 431.67,76.13 432.10,76.48 432.53,76.77 432.87,76.14 433.30,76.40 433.71,76.50 434.09,76.26 434.46,75.94 434.85,75.78 435.28,76.11 435.69,76.22 436.09,76.13 436.45,75.71 436.87,75.93 437.28,75.93 437.30,75.60 437.70,75.92 438.10,75.71 438.50,75.67 438.90,75.61 439.30,76.23 439.70,76.25 440.10,75.67 440.50,75.63 440.90,75.76 441.30,75.62 441.70,75.99 442.10,75.60 442.50,75.96 442.90,76.01 443.30,75.93 443.51,76.35 443.96,76.14 444.34,76.27 444.71,76.46 445.14,76.34 445.57,76.25 445.84,76.90 446.27,76.82 446.50,76.50" fill="none" stroke="#3cb54a" stroke-width="3.8" stroke-linejoin="round"/>
<polyline points="276.14,148.76 276.32,148.40 276.97,148.35 277.06,147.93 276.84,147.31 277.08,146.98 277.47,146.76 277.93,146.58 278.09,146.21 278.23,145.82 278.15,145.87 278.65,145.63 278.99,145.33 278.72,144.80 278.90,144.44 279.23,144.14 279.01,143.63 279.52,143.39 278.91,142.75 279.29,142.46 279.71,142.19 279.39,141.64 279.44,141.24 280.13,141.06 280.13,140.91 280.41,140.61 280.82,140.36 280.57,139.79 281.32,139.72 281.48,139.36 281.76,139.05 281.41,138.42 281.44,137.99 282.34,138.00 280.26,136.49 282.05,136.95 282.44,136.70 283.32,136.70 282.93,136.06 283.58,135.94 282.74,135.06 283.15,134.82 284.04,134.97 284.19,134.60 284.19,134.15 283.82,133.52 286.50,134.41 286.30,133.86 284.32,132.43 284.03,131.84 283.52,131.13 285.15,131.50 285.60,131.28 284.67,130.37 284.93,130.05 285.46,129.87 286.52,129.95 286.32,129.40 287.13,129.36 286.21,128.45 287.07,128.44 285.94,127.58 287.51,127.75 285.29,126.48 287.80,127.01 287.36,126.41 287.03,125.86 288.01,125.80 286.88,124.94 288.51,125.14 289.51,125.09 288.10,124.13 286.94,123.25 288.15,123.29 288.78,123.10 287.68,122.25 290.67,122.96 289.65,122.09 289.10,121.59 288.18,121.04 289.38,120.83 290.90,120.68 291.82,120.43 289.22,119.59 290.66,119.42 289.18,118.77 292.11,118.85 290.53,118.18 291.14,117.88 292.68,117.73 289.56,117.09 291.79,117.42 289.62,116.26 289.97,115.95 290.43,115.69 289.00,114.78 290.17,114.76 291.20,114.68 292.26,114.62 292.49,114.28 291.51,113.52 291.65,113.15 290.73,112.41 292.27,112.94 291.34,111.94 292.67,112.25 293.03,112.00 291.41,110.60 292.46,110.75 292.76,110.46 292.61,109.91 293.57,110.00 292.78,109.09 290.45,107.28 294.30,109.04 293.44,108.21 293.19,107.50 292.95,106.79 294.68,107.67 295.43,107.76 295.51,107.31 297.66,108.52 296.99,107.46 295.33,105.63 296.78,106.27 294.87,104.23 296.25,104.83 296.87,104.81 297.93,104.99 298.27,104.71 297.51,103.87 299.95,104.69 299.41,103.95 297.97,102.75 298.65,102.82 298.03,101.84 298.56,101.74 298.92,101.52 299.78,101.67 301.39,102.39 299.97,100.81 300.14,100.43 299.68,99.58 300.15,99.44 300.48,99.19 300.33,98.57 300.88,98.48 301.36,98.34 301.23,98.07 301.69,98.09 302.04,97.89 302.43,97.78 302.60,97.22 303.28,97.67 303.31,96.86 303.66,96.66 304.21,96.86 304.70,96.94 304.87,96.40 305.25,96.25 305.12,95.82 305.78,95.92 305.63,95.20 306.09,95.10 306.72,95.16 306.59,94.46 307.18,94.49 307.55,94.29 307.84,94.01 307.75,93.36 307.96,93.00 308.40,92.90 308.59,92.52 308.86,92.23 309.27,92.07 309.58,91.82 309.49,91.14 309.90,91.00 310.68,91.22 310.92,90.90 311.07,90.48 311.78,90.63 311.49,89.76 311.66,89.87 312.39,89.91 312.69,89.63 312.54,89.03 312.77,88.70 313.23,88.55 313.49,88.23 313.26,87.57 313.44,87.21 313.78,86.96 314.12,86.71 314.30,86.35 314.28,85.84 314.85,85.76 314.72,85.62 315.05,85.39 315.40,85.17 315.27,84.48 315.70,84.34 316.23,84.30 316.30,83.81 317.07,84.01 316.96,83.33 317.83,83.64 317.55,82.79 318.19,82.89 318.25,82.38 318.33,81.90 318.96,81.96 319.21,81.64 319.73,81.60 319.72,81.03 319.95,80.69 320.27,80.44 320.31,79.92 320.74,79.79 321.18,79.61 321.41,79.28 321.54,78.90 321.88,78.63 322.41,78.49 321.79,77.64 322.38,77.53 322.24,76.97 322.94,76.94 322.65,76.29 323.28,76.21 323.10,75.63 323.82,75.60 323.47,75.20 324.17,75.25 324.20,74.76 324.61,74.58 324.91,74.30 324.66,73.58 325.27,73.56 325.51,73.24 325.56,72.77 325.70,72.70 326.16,72.71 326.51,72.92 326.51,73.67 326.97,73.68 327.56,73.49 327.80,73.86 328.15,74.06 328.39,74.15 329.00,73.94 328.90,74.85 329.61,74.47 329.80,74.92 330.20,75.03 330.32,75.59 330.74,75.68 330.85,76.26 331.22,76.42 331.52,76.50 331.89,76.18 332.29,76.18 332.75,76.81 333.13,76.55 333.48,75.97 333.85,75.63 334.25,75.61 334.68,75.88 335.07,76.17 335.26,75.57 335.51,75.10 335.90,75.00 336.38,75.14 336.84,75.20 336.96,74.43 337.36,74.34 338.06,75.05 338.32,74.61 338.84,74.83 339.28,74.88 339.41,74.09 339.36,73.88 340.05,74.13 340.00,73.40 340.59,73.52 341.02,73.43 341.09,72.85 341.38,72.58 341.80,72.46 341.96,72.02 342.75,72.40 342.84,71.85 343.31,71.81 343.68,71.64 343.80,71.13 343.79,70.45 344.52,70.77 344.73,70.37 345.22,70.36 345.21,69.68 345.89,69.92 345.79,69.58 346.28,69.67 346.47,69.15 346.77,68.86 347.06,68.55 347.76,69.05 347.93,68.50 348.45,68.64 348.65,68.14 348.96,67.88 349.28,67.62 349.55,67.26 350.09,67.44 350.57,67.51 350.81,67.09 351.13,66.84 351.57,66.84 351.93,66.66 351.87,66.78 352.25,66.97 352.66,66.87 353.06,66.89 353.46,66.97 353.89,66.73 354.33,66.37 354.73,66.42 355.04,67.19 355.54,66.37 355.86,67.09 356.27,66.97 356.43,66.94 356.91,66.83 357.45,66.79 357.46,66.26 357.59,65.83 357.73,65.41 358.22,65.33 358.25,64.80 358.42,64.41 358.75,64.18 359.35,64.18 359.45,63.74 359.44,63.18 359.95,63.11 360.02,62.63 360.39,62.42 361.28,62.71 361.30,62.18 361.14,61.85 361.61,61.95 362.06,61.97 362.15,61.15 362.64,61.29 362.81,60.67 363.57,61.44 363.68,60.68 364.17,60.81 364.69,61.01 364.77,60.16 365.44,60.73 365.74,60.40 365.88,59.72 366.35,59.80 366.74,59.69 367.00,59.29 367.41,59.22 367.93,59.43 368.21,59.06 368.64,59.05 368.79,58.69 369.19,58.69 369.55,58.18 369.96,58.32 370.40,58.68 370.78,58.44 371.20,58.67 371.53,57.96 372.00,58.63 372.36,58.24 372.73,57.84 373.20,58.60 373.61,58.68 374.01,58.65 374.40,58.57 374.81,58.64 375.17,58.15 375.58,58.32 376.00,58.45 376.43,58.76 376.46,58.00 376.93,58.10 377.29,57.93 377.67,57.80 377.93,57.36 378.31,57.22 378.82,57.46 379.13,57.15 379.31,56.47 379.96,57.07 380.10,56.32 380.45,56.11 380.97,56.35 381.41,56.38 381.86,56.44 382.09,55.92 382.35,55.46 382.64,56.02 383.02,56.19 383.57,55.60 383.99,55.56 384.30,56.01 384.58,56.54 385.00,56.51 385.50,56.12 385.70,56.99 386.13,56.91 386.58,56.79 387.09,56.38 387.36,56.94 387.75,57.04 388.24,56.74 388.67,56.64 388.62,56.68 389.19,57.21 389.68,57.47 390.03,57.24 390.27,56.64 390.85,57.20 391.19,56.94 391.51,56.60 391.94,56.65 392.43,56.88 392.61,56.06 393.09,56.30 393.61,56.66 393.86,56.09 394.18,55.76 394.60,55.76 394.93,55.45 395.16,55.80 395.23,55.08 396.08,55.83 396.01,54.84 396.34,54.62 397.12,55.23 397.04,54.22 397.88,54.96 397.86,54.06 398.43,54.29 398.73,53.99 398.98,53.61 399.57,53.88 399.38,52.65 400.39,53.72 400.53,53.12 399.88,51.03 400.73,51.78 400.67,50.81 401.76,52.02 402.06,51.75 402.69,52.08 402.48,50.82 402.98,50.91 403.62,51.26 404.07,51.26 403.91,50.11 404.97,51.26 404.83,50.14 405.24,50.05 406.39,50.77 405.92,49.66 406.30,49.48 406.63,49.25 406.00,47.96 408.61,50.24 407.58,48.51 408.84,49.30 408.62,48.47 409.33,48.65 409.94,48.73 408.67,46.74 408.32,45.76 411.25,48.39 410.46,46.92 410.17,46.01 409.84,45.05 410.49,45.17 411.89,46.12 412.24,46.62 410.99,44.33 410.43,42.95 411.62,43.84 411.69,43.28 412.07,43.12 412.08,42.47 413.60,43.78 414.10,43.78 413.04,41.75 413.27,41.39 413.35,40.83 412.88,39.57 413.24,39.39 415.12,41.18 414.59,39.83 415.99,41.00 416.31,42.23 416.61,41.08 416.94,40.27 417.45,41.56 417.91,42.22 417.96,38.16 418.66,41.60 419.08,41.78 419.37,40.53 419.87,41.62 420.22,41.11 420.63,41.13 421.07,41.67 421.19,38.34 421.62,38.63 422.22,40.95 422.39,38.29 422.84,38.79 423.20,38.34 423.55,37.74 424.38,42.72 424.64,41.15 424.90,39.42 425.69,44.02 426.00,42.97 426.12,39.60 426.45,38.76 426.53,38.96 427.37,41.86 427.14,37.65 427.50,37.35 427.86,37.10 428.89,41.23 428.85,38.28 429.34,38.82 429.30,35.89 430.25,39.48 430.35,37.49 430.47,35.63 430.94,36.05 431.34,36.01 432.06,38.11 432.80,40.28 433.21,40.32 433.52,39.75 433.42,36.39 433.85,36.58 434.84,40.40 435.19,40.05 435.63,40.30 436.23,41.63 436.52,40.82 436.44,37.64 437.41,41.36 437.29,38.44 437.75,38.91 438.32,40.52 438.64,39.72 439.10,40.28 439.25,37.96 439.85,39.74 440.28,40.04 440.49,38.27 440.96,38.87 441.04,35.90 441.77,38.90 441.85,35.93 442.39,37.20 442.69,36.30 443.13,36.59 443.77,38.82 444.25,39.52 444.73,40.23 445.04,39.35 445.26,37.73 445.80,38.92 445.94,36.56 446.30,36.17 446.50,37.50" fill="none" stroke="#d2102f" stroke-width="3.9" stroke-linejoin="round"/>
<polyline points="267.50,149.23 267.89,149.07 268.33,149.79 268.71,149.40 269.13,149.67 269.51,149.41 269.92,149.64 270.31,149.29 270.71,149.26 271.10,149.05 271.51,149.20 271.89,148.97 272.30,149.14 272.68,148.65 273.07,148.46 273.47,148.44 273.88,148.64 274.28,148.71 274.69,148.87 275.09,148.75 275.51,149.25 275.89,148.84 276.28,148.51 276.70,148.93 277.10,149.01 277.48,148.62 277.90,149.02 278.28,148.53 278.71,149.11 279.09,148.69 279.51,149.09 279.63,148.80 280.04,148.82 280.37,148.31 280.85,148.82 281.25,148.82 281.53,148.01 281.98,148.26 282.31,147.81 282.80,148.33 283.19,148.26 283.60,148.27 283.98,148.13 284.33,147.78 284.76,147.95 285.08,147.42 285.48,147.40 285.94,147.71 286.36,147.81 286.69,147.37 287.05,147.07 287.45,147.03 287.88,147.21 288.28,147.18 288.75,147.56 289.12,147.32 289.32,147.45 289.66,147.21 290.01,147.00 290.39,146.87 290.60,146.25 291.11,146.51 291.44,146.22 291.84,146.16 292.18,145.94 292.56,145.80 293.06,146.02 293.43,145.88 293.64,145.26 294.20,145.66 294.49,145.27 294.74,144.75 295.32,145.20 295.72,145.14 295.98,144.67 296.37,144.57 296.72,144.36 297.09,144.20 297.57,144.37 297.92,144.17 298.37,144.23 298.76,144.14 298.77,143.73 299.35,144.05 299.61,143.65 299.96,143.46 300.25,143.12 300.76,143.28 301.14,143.16 301.54,143.07 301.92,142.93 302.11,142.39 302.53,142.33 302.89,142.17 303.16,141.79 303.37,141.30 303.99,141.68 304.41,141.64 304.62,141.14 305.14,141.31 305.19,140.46 305.74,140.70 306.03,140.38 306.48,140.39 306.73,139.99 307.21,140.08 307.39,139.50 307.78,139.40 308.18,139.31 308.40,139.20 308.75,138.99 309.29,139.19 309.48,138.67 309.86,138.53 310.05,138.02 310.56,138.15 311.00,138.15 311.34,137.93 311.80,137.94 312.03,137.51 312.32,137.21 312.90,137.46 313.32,137.42 313.69,137.26 313.73,136.43 314.29,136.67 314.45,136.08 314.84,135.97 315.38,136.17 315.77,136.06 316.03,135.67 316.02,135.45 316.39,135.24 316.54,134.84 316.78,134.52 317.01,134.18 317.76,134.31 318.06,134.03 317.87,133.37 318.60,133.52 318.85,133.21 319.11,132.91 319.09,132.33 319.51,132.18 319.92,132.03 320.11,131.64 320.52,131.49 320.26,130.68 320.71,130.56 321.02,130.30 321.33,130.05 321.96,130.10 322.23,129.80 322.41,129.42 322.55,129.00 322.88,128.76 323.18,128.49 323.06,127.82 323.58,127.77 323.76,127.85 324.26,127.20 324.63,127.46 325.04,127.44 325.37,127.90 325.82,127.64 326.25,127.46 326.69,127.83 326.76,128.30 327.08,128.56 327.67,128.56 327.45,129.30 328.07,129.27 328.52,129.41 328.43,130.03 328.38,130.08 328.60,129.74 328.55,129.16 328.80,128.85 329.55,128.98 329.71,128.59 329.68,128.03 330.31,128.05 330.27,127.48 330.87,127.48 331.39,127.40 331.31,126.80 331.76,126.66 332.31,126.61 332.12,125.91 332.68,125.88 332.31,125.02 333.25,125.31 332.95,124.67 333.40,124.83 333.97,125.56 334.26,125.01 334.38,123.76 335.00,124.68 335.22,123.83 335.68,124.04 336.01,123.70 336.40,123.61 337.25,125.55 337.06,124.21 337.34,123.74 338.15,125.03 338.01,123.20 338.62,123.82 338.76,122.89 339.06,122.52 340.23,125.02 340.16,123.54 340.70,123.87 340.54,122.23 341.14,122.72 341.18,121.63 342.44,123.99 341.89,121.24 343.39,124.28 343.84,124.36 343.31,121.67 343.80,121.85 344.02,121.28 344.17,120.49 344.92,122.03 345.34,122.09 346.01,123.45 346.09,121.75 346.24,120.39 346.84,121.42 347.01,120.18 347.29,119.54 347.99,121.06 348.76,122.92 348.42,119.04 349.57,122.91 349.80,121.93 350.32,122.46 350.31,120.46 350.47,119.28 351.44,121.98 351.29,119.28 352.14,121.43 352.88,123.00 352.96,121.44 353.59,122.48 353.37,119.46 354.47,122.77 354.12,119.13 354.38,120.03 354.94,121.10 355.50,122.18 355.22,117.47 355.64,117.61 356.34,119.65 356.35,116.90 356.89,117.85 357.19,117.15 358.25,121.66 358.55,120.96 358.67,119.01 359.52,122.05 360.27,121.25 359.38,118.46 359.18,117.13 360.95,119.88 361.12,119.32 360.65,117.42 360.40,115.95 361.28,116.88 362.98,119.50 362.72,118.03 363.03,117.74 363.46,117.72 362.90,115.62 364.63,118.30 363.84,116.40 365.37,118.25 364.92,116.67 365.44,116.78 366.26,117.40 366.87,117.66 366.52,116.25 367.44,117.05 366.45,114.51 366.64,114.04 367.00,113.87 367.80,114.46 369.63,116.84 368.60,114.25 368.58,113.76 368.35,112.73 370.32,114.89 371.07,115.27 369.77,112.68 369.25,111.21 371.38,113.61 372.07,113.91 371.28,112.05 371.94,112.30 372.08,111.80 372.88,112.26 373.45,112.38 374.34,112.97 372.75,109.94 374.76,112.22 373.82,110.39 373.65,109.52 375.33,111.01 373.98,108.65 375.53,109.97 377.21,111.45 377.37,111.00 377.77,110.86 377.04,109.30 377.73,109.52 378.48,109.82 377.10,107.44 379.68,110.05 379.34,108.98 378.46,107.23 378.96,107.39 380.29,108.06 376.85,104.40 378.06,104.96 380.65,106.76 377.83,103.67 380.63,105.66 379.44,104.04 379.59,103.59 379.51,102.55 380.44,103.50 381.08,103.88 382.23,105.26 383.07,106.05 383.02,105.06 382.37,102.88 383.54,104.31 384.76,105.83 383.45,102.36 384.81,104.17 384.04,101.76 384.57,101.91 385.41,102.70 386.35,103.66 385.95,101.98 385.45,100.11 386.67,101.64 385.78,98.99 387.61,101.73 387.47,100.56 387.23,99.20 388.12,100.35 387.78,98.95 388.50,99.40 389.12,99.69 390.04,100.51 388.90,97.67 391.19,100.92 391.31,100.31 390.13,97.40 392.43,100.67 391.31,97.86 393.18,100.38 391.93,97.35 393.77,99.80 393.93,99.26 393.31,97.34 393.79,97.39 394.27,97.42 394.43,96.89 394.26,95.78 396.00,98.04 397.14,98.31 396.43,97.05 398.04,98.07 396.40,95.90 396.71,95.64 397.47,95.83 396.09,93.91 397.85,95.08 398.15,94.81 396.49,92.62 397.82,93.37 400.22,95.16 399.47,93.86 398.13,91.99 401.12,94.37 398.86,91.58 399.83,91.98 401.37,92.93 400.45,92.25 400.81,92.01 400.62,88.54 401.29,90.09 401.66,89.87 402.88,94.59 402.65,90.90 402.99,90.53 403.84,93.09 404.26,93.17 404.56,92.59 404.77,91.45 405.47,93.14 405.60,91.54 406.13,88.76 405.17,92.58 407.04,88.59 405.74,93.34 406.86,91.44 407.15,91.81 408.20,90.09 407.49,93.23 408.73,90.97 408.73,92.14 410.01,89.81 409.29,92.95 409.34,93.99 410.07,93.14 410.08,94.28 410.85,93.29 411.25,93.29 411.39,94.72 412.41,91.51 412.62,92.57 412.62,94.67 413.08,94.41 413.32,95.26 413.92,94.24 414.41,93.81 414.88,93.51 415.69,91.42 415.56,94.21 415.92,94.46 415.43,91.64 416.04,92.08 416.49,92.13 417.43,93.34 416.51,90.09 417.03,90.28 419.05,94.09 419.21,93.44 418.95,91.78 418.88,90.58 418.97,89.74 419.72,90.52 421.67,94.14 420.58,90.49 421.93,94.16 421.25,91.01 422.69,93.91 422.06,90.88 423.16,92.84 423.57,92.78 423.45,91.24 423.33,89.68 424.10,90.67 423.94,89.02 425.40,91.97 424.78,88.98 425.25,89.12 425.19,87.74 425.87,88.45 427.21,91.07 426.55,91.14 426.92,91.48 427.21,92.60 427.57,93.06 428.44,88.12 428.71,89.49 429.21,88.45 429.26,92.20 429.99,88.68 430.08,92.01 430.76,89.09 431.14,89.30 431.46,90.11 431.58,93.15 432.00,89.92 432.40,89.62 432.80,92.37 433.20,89.20 433.60,90.25 434.00,89.23 434.40,90.14 434.80,89.13 435.20,88.09 435.60,88.02 436.00,92.08 436.40,89.26 436.80,89.46 436.89,91.02 437.12,92.54 437.91,89.08 438.39,88.40 438.81,88.16 439.16,88.70 439.27,91.29 439.81,90.05 440.17,90.43 440.66,89.69 441.02,90.08 441.36,90.64 441.26,92.38 441.63,92.68 442.12,91.98 442.93,88.73 442.90,92.24 443.69,89.07 444.08,89.22 444.39,89.97 445.02,88.10 445.16,90.22 445.29,92.45 445.50,91.00" fill="none" stroke="#5e1f7c" stroke-width="4.3" stroke-linejoin="round"/>
<polygon points="264.6,149.5 268,147 270.5,149.5 268,152.2" fill="#2a1a3a"/>
<line x1="267.5" y1="20.2" x2="267.5" y2="150.0" stroke="#111" stroke-width="1"/>
<line x1="267.5" y1="149.5" x2="446.8" y2="149.5" stroke="#111" stroke-width="1"/>
<line x1="264.5" y1="149.50" x2="267.5" y2="149.50" stroke="#111" stroke-width="0.8"/>
<text x="259.8" y="152.15" font-size="7.8" text-anchor="end" font-weight="normal" fill="#111" stroke="#111" stroke-width="0.2" >0</text>
<line x1="264.5" y1="124.34" x2="267.5" y2="124.34" stroke="#111" stroke-width="0.8"/>
<text x="259.8" y="126.99" font-size="7.8" text-anchor="end" font-weight="normal" fill="#111" stroke="#111" stroke-width="0.2" >2000</text>
<line x1="264.5" y1="99.18" x2="267.5" y2="99.18" stroke="#111" stroke-width="0.8"/>
<text x="259.8" y="101.83" font-size="7.8" text-anchor="end" font-weight="normal" fill="#111" stroke="#111" stroke-width="0.2" >4000</text>
<line x1="264.5" y1="74.02" x2="267.5" y2="74.02" stroke="#111" stroke-width="0.8"/>
<text x="259.8" y="76.67" font-size="7.8" text-anchor="end" font-weight="normal" fill="#111" stroke="#111" stroke-width="0.2" >6000</text>
<line x1="264.5" y1="48.86" x2="267.5" y2="48.86" stroke="#111" stroke-width="0.8"/>
<text x="259.8" y="51.51" font-size="7.8" text-anchor="end" font-weight="normal" fill="#111" stroke="#111" stroke-width="0.2" >8000</text>
<line x1="264.5" y1="23.70" x2="267.5" y2="23.70" stroke="#111" stroke-width="0.8"/>
<text x="259.8" y="26.35" font-size="7.8" text-anchor="end" font-weight="normal" fill="#111" stroke="#111" stroke-width="0.2" >10000</text>
<line x1="267.50" y1="149.5" x2="267.50" y2="152.5" stroke="#111" stroke-width="0.8"/>
<text x="267.5" y="162.3" font-size="7.8" text-anchor="middle" font-weight="normal" fill="#111" stroke="#111" stroke-width="0.2" >0</text>
<line x1="317.25" y1="149.5" x2="317.25" y2="152.5" stroke="#111" stroke-width="0.8"/>
<text x="317.25" y="162.3" font-size="7.8" text-anchor="middle" font-weight="normal" fill="#111" stroke="#111" stroke-width="0.2" >500</text>
<line x1="367.00" y1="149.5" x2="367.00" y2="152.5" stroke="#111" stroke-width="0.8"/>
<text x="367.0" y="162.3" font-size="7.8" text-anchor="middle" font-weight="normal" fill="#111" stroke="#111" stroke-width="0.2" >1000</text>
<line x1="416.75" y1="149.5" x2="416.75" y2="152.5" stroke="#111" stroke-width="0.8"/>
<text x="416.75" y="162.3" font-size="7.8" text-anchor="middle" font-weight="normal" fill="#111" stroke="#111" stroke-width="0.2" >1500</text>
<text x="0" y="0" font-size="8.2" text-anchor="middle" font-weight="normal" fill="#111" stroke="#111" stroke-width="0.38" transform="translate(357.2 175.0) scale(0.79 1)">Time (seconds)</text>
<text x="0" y="0" font-size="7.9" text-anchor="middle" font-weight="normal" fill="#111" stroke="#111" stroke-width="0.38" transform="translate(231.5 85.3) rotate(-90) scale(0.83 1)">Median fluorescence intensity (AU)</text>
<line x1="452.2" y1="24.6" x2="463.9" y2="24.6" stroke="#d2102f" stroke-width="1" opacity="0.8"/>
<text x="0" y="0" font-size="8.2" text-anchor="start" font-weight="normal" fill="#111" stroke="#111" stroke-width="0.24" transform="translate(467.4 26.9) scale(0.86 1)">WT/oxLDL</text>
<line x1="452.2" y1="35.5" x2="463.9" y2="35.5" stroke="#3cb54a" stroke-width="1" opacity="0.8"/>
<text x="0" y="0" font-size="8.2" text-anchor="start" font-weight="normal" fill="#111" stroke="#111" stroke-width="0.24" transform="translate(467.4 37.8) scale(0.86 1)">WT</text>
<line x1="452.2" y1="46.9" x2="463.9" y2="46.9" stroke="#5e1f7c" stroke-width="1" opacity="0.8"/>
<text x="0" y="0" font-size="8.2" text-anchor="start" font-weight="normal" fill="#111" stroke="#111" stroke-width="0.24" transform="translate(467.4 49.2) scale(0.86 1)">FcRγ<tspan font-size="4.8" dy="-3">−/−</tspan></text>
<line x1="452.2" y1="58.0" x2="463.9" y2="58.0" stroke="#1d5a8e" stroke-width="1" opacity="0.8"/>
<text x="0" y="0" font-size="8.2" text-anchor="start" font-weight="normal" fill="#111" stroke="#111" stroke-width="0.24" transform="translate(467.4 60.3) scale(0.86 1)">FcRγ<tspan font-size="4.8" dy="-3">−/−</tspan><tspan dy="3">/oxLDL</tspan></text>
<text x="7" y="203.2" font-size="11.2" text-anchor="start" font-weight="bold" fill="#000" stroke="#000" stroke-width="0.2" >C</text>
<text x="112.7" y="214.2" font-size="9.0" text-anchor="middle" font-weight="normal" fill="#111" stroke="#111" stroke-width="0.2" >10mins</text>
<line x1="61.0" y1="224.6" x2="61.0" y2="297.45000000000005" stroke="#1a1a1a" stroke-width="1.15"/>
<line x1="61.0" y1="296.85" x2="164.4" y2="296.85" stroke="#1a1a1a" stroke-width="1.15"/>
<line x1="57.70" y1="296.85" x2="61.0" y2="296.85" stroke="#222" stroke-width="0.8"/>
<text x="54.1" y="299.65" font-size="7.9" text-anchor="end" font-weight="normal" fill="#111" stroke="#111" stroke-width="0.2" >0</text>
<line x1="57.70" y1="273.6" x2="61.0" y2="273.6" stroke="#222" stroke-width="0.8"/>
<text x="54.1" y="276.4" font-size="7.9" text-anchor="end" font-weight="normal" fill="#111" stroke="#111" stroke-width="0.2" >5000</text>
<line x1="57.70" y1="250.6" x2="61.0" y2="250.6" stroke="#222" stroke-width="0.8"/>
<text x="54.1" y="253.4" font-size="7.9" text-anchor="end" font-weight="normal" fill="#111" stroke="#111" stroke-width="0.2" >10000</text>
<line x1="57.70" y1="227.6" x2="61.0" y2="227.6" stroke="#222" stroke-width="0.8"/>
<text x="54.1" y="230.4" font-size="7.9" text-anchor="end" font-weight="normal" fill="#111" stroke="#111" stroke-width="0.2" >15000</text>
<line x1="73.6" y1="287.1" x2="73.6" y2="283.4" stroke="#333" stroke-width="0.9"/>
<line x1="69.00" y1="283.4" x2="78.20" y2="283.4" stroke="#333" stroke-width="0.9"/>
<rect x="65.65" y="287.1" width="15.9" height="9.75" fill="#3cb94b"/>
<line x1="99.6" y1="268.6" x2="99.6" y2="257.5" stroke="#333" stroke-width="0.9"/>
<line x1="95.00" y1="257.5" x2="104.20" y2="257.5" stroke="#333" stroke-width="0.9"/>
<rect x="91.65" y="268.6" width="15.9" height="28.25" fill="#3cb94b"/>
<line x1="125.55" y1="288.3" x2="125.55" y2="283.1" stroke="#333" stroke-width="0.9"/>
<line x1="120.95" y1="283.1" x2="130.15" y2="283.1" stroke="#333" stroke-width="0.9"/>
<rect x="117.60" y="288.3" width="15.9" height="8.55" fill="#62237c"/>
<line x1="151.3" y1="292.1" x2="151.3" y2="288.7" stroke="#333" stroke-width="0.9"/>
<line x1="146.70" y1="288.7" x2="155.90" y2="288.7" stroke="#333" stroke-width="0.9"/>
<rect x="143.35" y="292.1" width="15.9" height="4.75" fill="#62237c"/>
<line x1="99.6" y1="296.85" x2="99.6" y2="299.85" stroke="#222" stroke-width="0.8"/>
<text x="0" y="0" font-size="7.8" text-anchor="middle" font-weight="normal" fill="#111" stroke="#111" stroke-width="0.24" transform="translate(103.10 313.5) rotate(-90) scale(0.93 1)">oxLDL</text>
<line x1="151.3" y1="296.85" x2="151.3" y2="299.85" stroke="#222" stroke-width="0.8"/>
<text x="0" y="0" font-size="7.8" text-anchor="middle" font-weight="normal" fill="#111" stroke="#111" stroke-width="0.24" transform="translate(154.80 313.5) rotate(-90) scale(0.93 1)">oxLDL</text>
<line x1="64.30" y1="327.2" x2="108.80" y2="327.2" stroke="#222" stroke-width="0.8"/>
<line x1="117.55" y1="327.2" x2="161.50" y2="327.2" stroke="#222" stroke-width="0.8"/>
<text x="0" y="0" font-size="8.0" text-anchor="middle" font-weight="normal" fill="#111" stroke="#111" stroke-width="0.26" transform="translate(86.60 337.50) scale(0.92 1)">WT</text>
<text x="0" y="0" font-size="8.0" text-anchor="middle" font-weight="normal" fill="#111" stroke="#111" stroke-width="0.26" transform="translate(139.53 337.50) scale(0.92 1)">FcRγ<tspan font-size="4.8" dy="-3">−/−</tspan></text>
<polyline points="77.1,230.8 77.1,227.8 98.6,227.8 98.6,230.8" fill="none" stroke="#111" stroke-width="1.0"/>
<text x="87.9" y="226.79999999999998" font-size="7.2" text-anchor="middle" font-weight="normal" fill="#111" stroke="#111" stroke-width="0.2" >*</text>
<text x="0" y="0" font-size="8.2" text-anchor="middle" font-weight="normal" fill="#111" stroke="#111" stroke-width="0.38" transform="translate(14.80 260.2) rotate(-90) scale(0.78 1)">Peak thrombus size</text>
<text x="0" y="0" font-size="8.2" text-anchor="middle" font-weight="normal" fill="#111" stroke="#111" stroke-width="0.38" transform="translate(25.40 260.3) rotate(-90) scale(0.78 1)">(MFI)</text>
<text x="284.65" y="214.2" font-size="9.0" text-anchor="middle" font-weight="normal" fill="#111" stroke="#111" stroke-width="0.2" >20mins</text>
<line x1="233.5" y1="224.6" x2="233.5" y2="297.45000000000005" stroke="#1a1a1a" stroke-width="1.15"/>
<line x1="233.5" y1="296.85" x2="335.8" y2="296.85" stroke="#1a1a1a" stroke-width="1.15"/>
<line x1="230.20" y1="296.85" x2="233.5" y2="296.85" stroke="#222" stroke-width="0.8"/>
<text x="226.6" y="299.65" font-size="7.9" text-anchor="end" font-weight="normal" fill="#111" stroke="#111" stroke-width="0.2" >0</text>
<line x1="230.20" y1="273.6" x2="233.5" y2="273.6" stroke="#222" stroke-width="0.8"/>
<text x="226.6" y="276.4" font-size="7.9" text-anchor="end" font-weight="normal" fill="#111" stroke="#111" stroke-width="0.2" >5000</text>
<line x1="230.20" y1="250.6" x2="233.5" y2="250.6" stroke="#222" stroke-width="0.8"/>
<text x="226.6" y="253.4" font-size="7.9" text-anchor="end" font-weight="normal" fill="#111" stroke="#111" stroke-width="0.2" >10000</text>
<line x1="230.20" y1="227.6" x2="233.5" y2="227.6" stroke="#222" stroke-width="0.8"/>
<text x="226.6" y="230.4" font-size="7.9" text-anchor="end" font-weight="normal" fill="#111" stroke="#111" stroke-width="0.2" >15000</text>
<line x1="247.05" y1="271.8" x2="247.05" y2="267.4" stroke="#333" stroke-width="0.9"/>
<line x1="242.45" y1="267.4" x2="251.65" y2="267.4" stroke="#333" stroke-width="0.9"/>
<rect x="239.10" y="271.8" width="15.9" height="25.05" fill="#3cb94b"/>
<line x1="272.05" y1="261.8" x2="272.05" y2="249.4" stroke="#333" stroke-width="0.9"/>
<line x1="267.45" y1="249.4" x2="276.65" y2="249.4" stroke="#333" stroke-width="0.9"/>
<rect x="264.10" y="261.8" width="15.9" height="35.05" fill="#3cb94b"/>
<line x1="297.45" y1="281.0" x2="297.45" y2="275.9" stroke="#333" stroke-width="0.9"/>
<line x1="292.85" y1="275.9" x2="302.05" y2="275.9" stroke="#333" stroke-width="0.9"/>
<rect x="289.50" y="281.0" width="15.9" height="15.85" fill="#62237c"/>
<line x1="322.95" y1="283.1" x2="322.95" y2="279.4" stroke="#333" stroke-width="0.9"/>
<line x1="318.35" y1="279.4" x2="327.55" y2="279.4" stroke="#333" stroke-width="0.9"/>
<rect x="315.00" y="283.1" width="15.9" height="13.75" fill="#62237c"/>
<line x1="272.05" y1="296.85" x2="272.05" y2="299.85" stroke="#222" stroke-width="0.8"/>
<text x="0" y="0" font-size="7.8" text-anchor="middle" font-weight="normal" fill="#111" stroke="#111" stroke-width="0.24" transform="translate(275.55 313.5) rotate(-90) scale(0.93 1)">oxLDL</text>
<line x1="322.95" y1="296.85" x2="322.95" y2="299.85" stroke="#222" stroke-width="0.8"/>
<text x="0" y="0" font-size="7.8" text-anchor="middle" font-weight="normal" fill="#111" stroke="#111" stroke-width="0.24" transform="translate(326.45 313.5) rotate(-90) scale(0.93 1)">oxLDL</text>
<line x1="237.75" y1="327.2" x2="281.25" y2="327.2" stroke="#222" stroke-width="0.8"/>
<line x1="289.45" y1="327.2" x2="333.15" y2="327.2" stroke="#222" stroke-width="0.8"/>
<text x="0" y="0" font-size="8.0" text-anchor="middle" font-weight="normal" fill="#111" stroke="#111" stroke-width="0.26" transform="translate(259.55 337.50) scale(0.92 1)">WT</text>
<text x="0" y="0" font-size="8.0" text-anchor="middle" font-weight="normal" fill="#111" stroke="#111" stroke-width="0.26" transform="translate(311.30 337.50) scale(0.92 1)">FcRγ<tspan font-size="4.8" dy="-3">−/−</tspan></text>
<polyline points="247.6,230.8 247.6,227.8 269.5,227.8 269.5,230.8" fill="none" stroke="#111" stroke-width="1.0"/>
<text x="258.5" y="226.6" font-size="7.2" text-anchor="middle" font-weight="normal" fill="#111" stroke="#111" stroke-width="0.2" >*</text>
<text x="0" y="0" font-size="8.2" text-anchor="middle" font-weight="normal" fill="#111" stroke="#111" stroke-width="0.38" transform="translate(187.30 260.2) rotate(-90) scale(0.78 1)">Peak thrombus size</text>
<text x="0" y="0" font-size="8.2" text-anchor="middle" font-weight="normal" fill="#111" stroke="#111" stroke-width="0.38" transform="translate(197.90 260.3) rotate(-90) scale(0.78 1)">(MFI)</text>
<text x="456.1" y="214.2" font-size="9.0" text-anchor="middle" font-weight="normal" fill="#111" stroke="#111" stroke-width="0.2" >30mins</text>
<line x1="404.9" y1="224.6" x2="404.9" y2="297.45000000000005" stroke="#1a1a1a" stroke-width="1.15"/>
<line x1="404.9" y1="296.85" x2="507.3" y2="296.85" stroke="#1a1a1a" stroke-width="1.15"/>
<line x1="401.60" y1="296.85" x2="404.9" y2="296.85" stroke="#222" stroke-width="0.8"/>
<text x="398.0" y="299.65" font-size="7.9" text-anchor="end" font-weight="normal" fill="#111" stroke="#111" stroke-width="0.2" >0</text>
<line x1="401.60" y1="273.6" x2="404.9" y2="273.6" stroke="#222" stroke-width="0.8"/>
<text x="398.0" y="276.4" font-size="7.9" text-anchor="end" font-weight="normal" fill="#111" stroke="#111" stroke-width="0.2" >5000</text>
<line x1="401.60" y1="250.6" x2="404.9" y2="250.6" stroke="#222" stroke-width="0.8"/>
<text x="398.0" y="253.4" font-size="7.9" text-anchor="end" font-weight="normal" fill="#111" stroke="#111" stroke-width="0.2" >10000</text>
<line x1="401.60" y1="227.6" x2="404.9" y2="227.6" stroke="#222" stroke-width="0.8"/>
<text x="398.0" y="230.4" font-size="7.9" text-anchor="end" font-weight="normal" fill="#111" stroke="#111" stroke-width="0.2" >15000</text>
<line x1="417.95" y1="271.5" x2="417.95" y2="265.9" stroke="#333" stroke-width="0.9"/>
<line x1="413.35" y1="265.9" x2="422.55" y2="265.9" stroke="#333" stroke-width="0.9"/>
<rect x="410.00" y="271.5" width="15.9" height="25.35" fill="#3cb94b"/>
<line x1="443.35" y1="251.9" x2="443.35" y2="240.6" stroke="#333" stroke-width="0.9"/>
<line x1="438.75" y1="240.6" x2="447.95" y2="240.6" stroke="#333" stroke-width="0.9"/>
<rect x="435.40" y="251.9" width="15.9" height="44.95" fill="#3cb94b"/>
<line x1="468.8" y1="275.9" x2="468.8" y2="269.5" stroke="#333" stroke-width="0.9"/>
<line x1="464.20" y1="269.5" x2="473.40" y2="269.5" stroke="#333" stroke-width="0.9"/>
<rect x="460.85" y="275.9" width="15.9" height="20.95" fill="#62237c"/>
<line x1="494.25" y1="275.4" x2="494.25" y2="269.0" stroke="#333" stroke-width="0.9"/>
<line x1="489.65" y1="269.0" x2="498.85" y2="269.0" stroke="#333" stroke-width="0.9"/>
<rect x="486.30" y="275.4" width="15.9" height="21.45" fill="#62237c"/>
<line x1="443.35" y1="296.85" x2="443.35" y2="299.85" stroke="#222" stroke-width="0.8"/>
<text x="0" y="0" font-size="7.8" text-anchor="middle" font-weight="normal" fill="#111" stroke="#111" stroke-width="0.24" transform="translate(446.85 313.5) rotate(-90) scale(0.93 1)">oxLDL</text>
<line x1="494.25" y1="296.85" x2="494.25" y2="299.85" stroke="#222" stroke-width="0.8"/>
<text x="0" y="0" font-size="7.8" text-anchor="middle" font-weight="normal" fill="#111" stroke="#111" stroke-width="0.24" transform="translate(497.75 313.5) rotate(-90) scale(0.93 1)">oxLDL</text>
<line x1="408.65" y1="327.2" x2="452.55" y2="327.2" stroke="#222" stroke-width="0.8"/>
<line x1="460.80" y1="327.2" x2="504.45" y2="327.2" stroke="#222" stroke-width="0.8"/>
<text x="0" y="0" font-size="8.0" text-anchor="middle" font-weight="normal" fill="#111" stroke="#111" stroke-width="0.26" transform="translate(430.65 337.50) scale(0.92 1)">WT</text>
<text x="0" y="0" font-size="8.0" text-anchor="middle" font-weight="normal" fill="#111" stroke="#111" stroke-width="0.26" transform="translate(482.62 337.50) scale(0.92 1)">FcRγ<tspan font-size="4.8" dy="-3">−/−</tspan></text>
<polyline points="418.4,229.3 418.4,226.3 440.5,226.3 440.5,229.3" fill="none" stroke="#111" stroke-width="1.0"/>
<text x="429.6" y="225.1" font-size="7.2" text-anchor="middle" font-weight="normal" fill="#111" stroke="#111" stroke-width="0.2" >*</text>
<text x="0" y="0" font-size="8.2" text-anchor="middle" font-weight="normal" fill="#111" stroke="#111" stroke-width="0.38" transform="translate(358.70 260.2) rotate(-90) scale(0.78 1)">Peak thrombus size</text>
<text x="0" y="0" font-size="8.2" text-anchor="middle" font-weight="normal" fill="#111" stroke="#111" stroke-width="0.38" transform="translate(369.30 260.3) rotate(-90) scale(0.78 1)">(MFI)</text>
<rect x="0.5" y="0.5" width="519" height="345" fill="none" stroke="#4a4a4a" stroke-width="1"/>
</svg>
</body></html>
